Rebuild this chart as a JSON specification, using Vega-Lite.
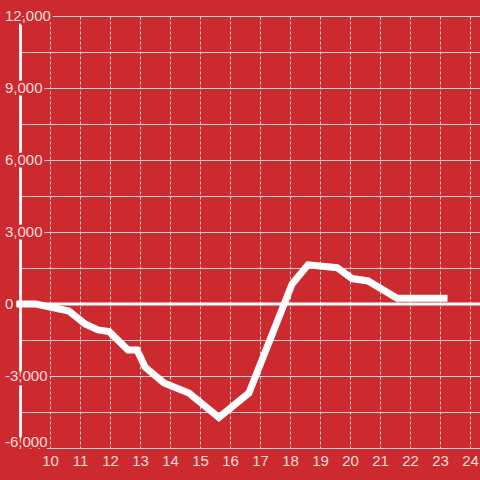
{
  "$schema": "https://vega.github.io/schema/vega-lite/v6.json",
  "width": 460,
  "height": 432,
  "autosize": {"type": "none"},
  "padding": {"left": 20, "top": 16, "right": 0, "bottom": 32},
  "background": "#cd2a30",
  "config": {
    "view": {"stroke": null},
    "font": "Liberation Sans",
    "axisX": {
      "format": "d",
      "title": null,
      "domain": false,
      "ticks": false,
      "tickSize": 0,
      "labelPadding": 5,
      "labelColor": "#f6dcdc",
      "labelFontSize": 15,
      "labelFont": "Liberation Sans",
      "labelFlush": false,
      "labelOverlap": false,
      "grid": true,
      "gridColor": "#d2d2d2",
      "gridDash": [3, 2],
      "gridWidth": 1
    },
    "axisY": {
      "title": null,
      "labels": false,
      "ticks": false,
      "domain": true,
      "domainColor": "#f4f0f0",
      "domainWidth": 3,
      "grid": true,
      "gridColor": "#d2d2d2",
      "gridWidth": 1
    }
  },
  "datasets": {
    "series": [
      {"hour": 8.88, "value": 0},
      {"hour": 9.53, "value": 0},
      {"hour": 10.63, "value": -290},
      {"hour": 11.17, "value": -830},
      {"hour": 11.6, "value": -1080},
      {"hour": 11.97, "value": -1150},
      {"hour": 12.6, "value": -1920},
      {"hour": 12.9, "value": -1920},
      {"hour": 13.17, "value": -2630},
      {"hour": 13.8, "value": -3290},
      {"hour": 14.63, "value": -3710},
      {"hour": 15.63, "value": -4730},
      {"hour": 16.63, "value": -3710},
      {"hour": 18.07, "value": 830},
      {"hour": 18.6, "value": 1630},
      {"hour": 19.57, "value": 1510},
      {"hour": 20.07, "value": 1060},
      {"hour": 20.6, "value": 960},
      {"hour": 21.57, "value": 240},
      {"hour": 23.25, "value": 240}
    ],
    "ylabels": [
      {"v": 12000, "label": "12,000"},
      {"v": 9000, "label": "9,000"},
      {"v": 6000, "label": "6,000"},
      {"v": 3000, "label": "3,000"},
      {"v": 0, "label": "0"},
      {"v": -3000, "label": "-3,000"},
      {"v": -6000, "label": "-6,000"}
    ]
  },
  "layer": [
    {
      "data": {"name": "ylabels"},
      "transform": [{"filter": "datum.v > -6000"}],
      "mark": {"type": "text", "align": "left", "baseline": "middle", "dx": -15, "fontSize": 15, "fill": "#cd2a30", "stroke": "#cd2a30", "strokeWidth": 5, "strokeJoin": "round"},
      "encoding": {
        "x": {"datum": 9, "type": "quantitative", "scale": {"domain": [9, 24.3333], "nice": false, "zero": false}, "title": null, "axis": {"values": [10, 11, 12, 13, 14, 15, 16, 17, 18, 19, 20, 21, 22, 23, 24]}},
        "y": {"field": "v", "type": "quantitative", "scale": {"domain": [-6000, 12000], "nice": false, "zero": false}, "title": null, "axis": {"values": [-6000, -4500, -3000, -1500, 0, 1500, 3000, 4500, 6000, 7500, 9000, 10500, 12000]}},
        "text": {"field": "label"}
      }
    },
    {
      "data": {"name": "ylabels"},
      "transform": [{"filter": "datum.v == -6000"}],
      "mark": {"type": "text", "align": "left", "baseline": "alphabetic", "dx": -15, "dy": -1, "fontSize": 15, "fill": "#cd2a30", "stroke": "#cd2a30", "strokeWidth": 5, "strokeJoin": "round"},
      "encoding": {
        "x": {"datum": 9, "type": "quantitative", "title": null, "axis": {"values": [10, 11, 12, 13, 14, 15, 16, 17, 18, 19, 20, 21, 22, 23, 24]}},
        "y": {"field": "v", "type": "quantitative", "title": null, "axis": {"values": [-6000, -4500, -3000, -1500, 0, 1500, 3000, 4500, 6000, 7500, 9000, 10500, 12000]}},
        "text": {"field": "label"}
      }
    },
    {
      "data": {"name": "ylabels"},
      "transform": [{"filter": "datum.v > -6000"}],
      "mark": {"type": "text", "align": "left", "baseline": "middle", "dx": -15, "fontSize": 15, "fill": "#f6dcdc"},
      "encoding": {
        "x": {"datum": 9, "type": "quantitative", "title": null, "axis": {"values": [10, 11, 12, 13, 14, 15, 16, 17, 18, 19, 20, 21, 22, 23, 24]}},
        "y": {"field": "v", "type": "quantitative", "title": null, "axis": {"values": [-6000, -4500, -3000, -1500, 0, 1500, 3000, 4500, 6000, 7500, 9000, 10500, 12000]}},
        "text": {"field": "label"}
      }
    },
    {
      "data": {"name": "ylabels"},
      "transform": [{"filter": "datum.v == -6000"}],
      "mark": {"type": "text", "align": "left", "baseline": "alphabetic", "dx": -15, "dy": -1, "fontSize": 15, "fill": "#f6dcdc"},
      "encoding": {
        "x": {"datum": 9, "type": "quantitative", "title": null, "axis": {"values": [10, 11, 12, 13, 14, 15, 16, 17, 18, 19, 20, 21, 22, 23, 24]}},
        "y": {"field": "v", "type": "quantitative", "title": null, "axis": {"values": [-6000, -4500, -3000, -1500, 0, 1500, 3000, 4500, 6000, 7500, 9000, 10500, 12000]}},
        "text": {"field": "label"}
      }
    },
    {
      "data": {"values": [{}]},
      "mark": {"type": "rule", "color": "white", "strokeWidth": 3},
      "encoding": {
        "y": {"datum": 0, "type": "quantitative", "title": null, "axis": {"values": [-6000, -4500, -3000, -1500, 0, 1500, 3000, 4500, 6000, 7500, 9000, 10500, 12000]}},
        "x": {"datum": 8.88, "type": "quantitative", "title": null, "axis": {"values": [10, 11, 12, 13, 14, 15, 16, 17, 18, 19, 20, 21, 22, 23, 24]}},
        "x2": {"datum": 24.3333}
      }
    },
    {
      "data": {"name": "series"},
      "mark": {"type": "line", "color": "white", "strokeWidth": 7, "clip": false},
      "encoding": {
        "x": {"field": "hour", "type": "quantitative", "title": null, "axis": {"values": [10, 11, 12, 13, 14, 15, 16, 17, 18, 19, 20, 21, 22, 23, 24]}},
        "y": {"field": "value", "type": "quantitative", "title": null, "axis": {"values": [-6000, -4500, -3000, -1500, 0, 1500, 3000, 4500, 6000, 7500, 9000, 10500, 12000]}}
      }
    }
  ]
}
